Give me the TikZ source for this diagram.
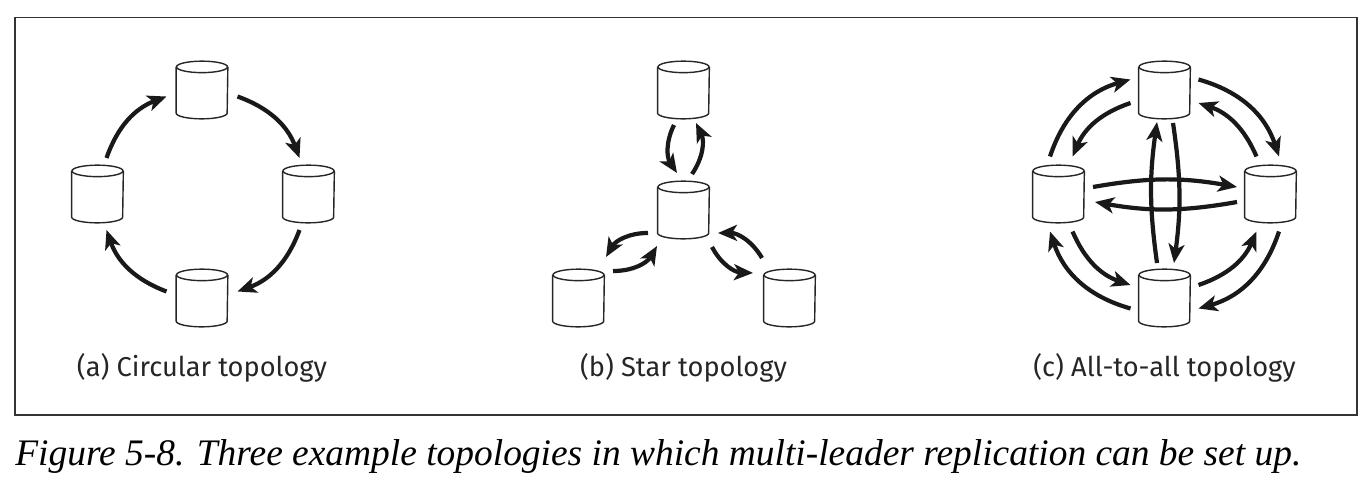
\documentclass[tikz,border=0pt]{standalone}
\usepackage{fontspec}
\newfontfamily\labelfont{Fira Sans}
\newfontfamily\capfont{Liberation Serif}
\usetikzlibrary{arrows.meta}
% one database: a named box with the cylinder drawn on it
\newcommand\dbnode[2]{%
  \node[dbbox] (#1) at (#2) {};
  \draw[dbline] ([yshift=-0.115cm]#1.north) ellipse [x radius=0.51cm, y radius=0.115cm];
  \draw[dbline] ([yshift=-0.115cm]#1.north west) -- ([yshift=0.115cm]#1.south west)
    arc [start angle=180, end angle=360, x radius=0.51cm, y radius=0.115cm]
    -- ([yshift=-0.115cm]#1.north east);
}
\begin{document}
\begin{tikzpicture}[
    dbbox/.style = {minimum width=1.02cm, minimum height=1.14cm, inner sep=0pt},
    dbline/.style = {line width=0.8pt, black!85},
    arr/.style = {line width=2.4pt, black!90, -{Stealth[length=0.38cm,width=0.32cm,inset=0.1cm]}},
    lbl/.style = {font=\labelfont\fontsize{15.5}{18}\selectfont, text=black!85}
]
    \useasboundingbox (0,0) rectangle (27.26,9.78);
    \draw[line width=0.8pt, black!80] (0.30,1.48) rectangle (27.14,9.43);
    % (a) circular
    \dbnode{ct}{4.04,7.98}
    \dbnode{cl}{1.95,5.90}
    \dbnode{cr}{6.17,5.90}
    \dbnode{cb}{4.04,3.82}
    \draw[arr] ([shift={(0.71,-0.13)}]ct.center) to[bend left=25] ([shift={(-0.18,0.72)}]cr.center);
    \draw[arr] ([shift={(-0.18,-0.72)}]cr.center) to[bend left=25] ([shift={(0.71,0.13)}]cb.center);
    \draw[arr] ([shift={(-0.71,0.13)}]cb.center) to[bend left=25] ([shift={(0.18,-0.72)}]cl.center);
    \draw[arr] ([shift={(0.18,0.72)}]cl.center) to[bend left=25] ([shift={(-0.71,-0.13)}]ct.center);
    \node[lbl] (la) at (4.04,2.42) {(a) Circular topology};
    % (b) star
    \dbnode{st}{13.67,7.98}
    \dbnode{sc}{13.67,5.58}
    \dbnode{sl}{11.57,3.82}
    \dbnode{sr}{15.79,3.82}
    \draw[arr] ([shift={(-0.19,-0.70)}]st.center) to[bend right=30] ([shift={(-0.13,0.74)}]sc.center);
    \draw[arr] ([shift={(0.17,0.72)}]sc.center) to[bend right=30] ([shift={(0.25,-0.66)}]st.center);
    \draw[arr] ([shift={(-0.71,-0.46)}]sc.center) to[bend right=30] ([shift={(0.55,0.82)}]sl.center);
    \draw[arr] ([shift={(0.69,0.54)}]sl.center) to[bend right=30] ([shift={(-0.53,-0.72)}]sc.center);
    \draw[arr] ([shift={(0.57,-0.74)}]sc.center) to[bend right=30] ([shift={(-0.73,0.50)}]sr.center);
    \draw[arr] ([shift={(-0.55,0.80)}]sr.center) to[bend right=30] ([shift={(0.69,-0.46)}]sc.center);
    \node[lbl] (lb) at (13.67,2.42) {(b) Star topology};
    % (c) all-to-all
    \dbnode{at}{23.29,7.98}
    \dbnode{al}{21.17,5.90}
    \dbnode{ar}{25.41,5.90}
    \dbnode{ab}{23.29,3.82}
    \draw[arr] ([shift={(-0.17,0.75)}]al.center) to[bend left=28] ([shift={(-0.68,0.21)}]at.center);
    \draw[arr] ([shift={(-0.68,-0.26)}]at.center) to[bend right=24] ([shift={(0.28,0.75)}]al.center);
    \draw[arr] ([shift={(0.68,0.21)}]at.center) to[bend left=28] ([shift={(0.17,0.75)}]ar.center);
    \draw[arr] ([shift={(-0.28,0.75)}]ar.center) to[bend right=24] ([shift={(0.68,-0.26)}]at.center);
    \draw[arr] ([shift={(0.17,-0.75)}]ar.center) to[bend left=28] ([shift={(0.68,-0.21)}]ab.center);
    \draw[arr] ([shift={(0.68,0.26)}]ab.center) to[bend right=24] ([shift={(-0.28,-0.75)}]ar.center);
    \draw[arr] ([shift={(-0.68,-0.21)}]ab.center) to[bend left=28] ([shift={(-0.17,-0.75)}]al.center);
    \draw[arr] ([shift={(0.28,-0.75)}]al.center) to[bend right=24] ([shift={(-0.68,0.26)}]ab.center);
    \draw[arr] ([shift={(0.69,0.14)}]al.center) to[bend left=10] ([shift={(-0.67,0.14)}]ar.center);
    \draw[arr] ([shift={(-0.67,-0.16)}]ar.center) to[bend left=10] ([shift={(0.73,-0.16)}]al.center);
    \draw[arr] ([shift={(-0.15,0.70)}]ab.center) to[bend left=8] ([shift={(-0.15,-0.64)}]at.center);
    \draw[arr] ([shift={(0.17,-0.66)}]at.center) to[bend left=8] ([shift={(0.19,0.70)}]ab.center);
    \node[lbl] (lc) at (23.29,2.42) {(c) All-to-all topology};
    % caption
    \node[anchor=base west, inner sep=0pt, font=\capfont\itshape\fontsize{21.3}{25}\selectfont] (cap) at (0.30,0.48) {Figure 5-8. Three example topologies in which multi-leader replication can be set up.};
\end{tikzpicture}
\end{document}
